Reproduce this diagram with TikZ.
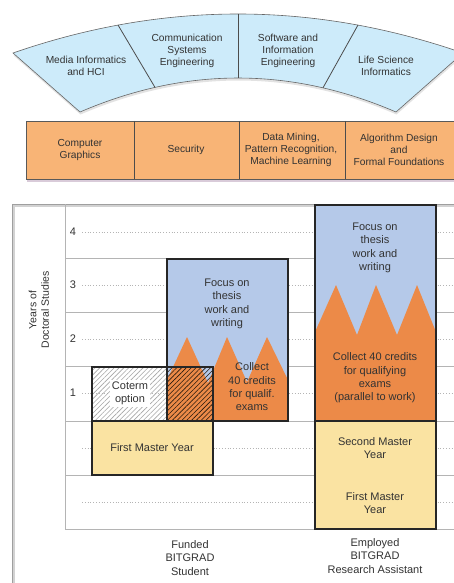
\documentclass[tikz,border=0pt]{standalone}
\usepackage{fontspec}
\setmainfont{Liberation Sans}
\usetikzlibrary{patterns.meta,shadows}
\definecolor{arcblue}{HTML}{CDEBFA}
\definecolor{rowor}{HTML}{F8B476}
\definecolor{thesisblue}{HTML}{B5C9E9}
\definecolor{credor}{HTML}{EC8A48}
\definecolor{masteryel}{HTML}{FAE3A2}
\definecolor{txt}{HTML}{333333}
\definecolor{gridgray}{HTML}{B4B4B4}
\tikzset{
  toptext/.style={align=center, text=txt, font=\fontsize{10.2}{12}\selectfont, inner sep=0pt},
  charttext/.style={align=center, text=txt, font=\fontsize{11}{13.3}\selectfont, inner sep=0pt},
  gridline/.style={draw=gridgray, line width=0.7pt},
  dotline/.style={draw=gridgray, line width=0.8pt, dash pattern=on 0.8pt off 2pt},
  boxborder/.style={draw=black!85, line width=1.4pt},
  divider/.style={draw=black!70, line width=0.8pt}
}
\begin{document}
\begin{tikzpicture}[x=1pt,y=-1pt]
\clip (0,0) rectangle (454,583);
\fill[white] (0,0) rectangle (454,583);

% ---------- top arc band ----------
\path[fill=arcblue, draw=black!60, line width=0.6pt,
      drop shadow={shadow xshift=0.5pt, shadow yshift=-2.5pt, fill=gray!45}]
  (13,53) .. controls (163,1) and (313,1) .. (463,53)
  -- (396,112) .. controls (290.7,66.7) and (185.3,66.7) .. (80,112) -- cycle;
\draw[divider] (118,25) -- (155,87.4);
\draw[divider] (238,14) -- (238,78);
\draw[divider] (358,25) -- (323,87.8);
\node[toptext] (mi)  at (86,66)  {Media Informatics\\and HCI};
\node[toptext] (cse) at (187,51) {Communication\\Systems\\Engineering};
\node[toptext] (sie) at (288,51) {Software and\\Information\\Engineering};
\node[toptext] (lsi) at (386,66) {Life Science\\Informatics};

% ---------- orange row ----------
\path[fill=rowor, draw=black!65, line width=0.8pt,
      drop shadow={shadow xshift=0.5pt, shadow yshift=-2.5pt, fill=black!45!violet!40}]
  (26,121) rectangle (470,179);
\draw[divider] (134,121) -- (134,179);
\draw[divider] (239,121) -- (239,179);
\draw[divider] (345,121) -- (345,179);
\node[toptext] (cg)  at (80,150)  {Computer\\Graphics};
\node[toptext] (sec) at (186,150) {Security};
\node[toptext] (dm)  at (291,150) {Data Mining,\\Pattern Recognition,\\Machine Learning};
\node[toptext] (alg) at (399,150) {Algorithm Design\\and\\Formal Foundations};

% ---------- chart frame ----------
\draw[gray!35, line width=2pt] (14,600) -- (14,206) -- (470,206);
\draw[gray!75, line width=0.8pt] (12,600) -- (12,204) -- (470,204);

% grid
\foreach \yy in {258,312,366,421,475}
  \draw[gridline] (65,\yy) -- (470,\yy);
\draw[gridline] (65,204) -- (65,529) -- (470,529);
\foreach \yy in {232,285,339,393,448,502}
  \draw[dotline] (82,\yy) -- (470,\yy);
\node[charttext] (n4) at (73,232) {4};
\node[charttext] (n3) at (73,285) {3};
\node[charttext] (n2) at (73,339) {2};
\node[charttext] (n1) at (73,393) {1};
\node[charttext, rotate=90, font=\fontsize{10.5}{12.5}\selectfont] (ylab) at (39,310) {Years of\\Doctoral Studies};

% ---------- left column ----------
\fill[thesisblue] (167,259) rectangle (288,421);
\fill[credor] (167,421) -- (167,380) -- (187,337) -- (208,383) -- (227,337)
  -- (247,382) -- (267,337) -- (288,380) -- (288,421) -- cycle;
\fill[pattern={Lines[angle=45, distance=3.4pt, line width=0.6pt]}, pattern color=gray!70]
  (92,367) rectangle (167,421);
\fill[pattern={Lines[angle=45, distance=3.4pt, line width=0.6pt]}, pattern color=black!80!brown]
  (167,367) rectangle (213,421);
\fill[white] (110,380) rectangle (150,407);
\draw[boxborder] (167,259) rectangle (288,421);
\draw[boxborder] (92,367) rectangle (213,421);
\fill[masteryel] (92,421) rectangle (213,475);
\draw[boxborder] (92,421) rectangle (213,475);

\node[charttext] (lthesis) at (227,304) {Focus on\\thesis\\work and\\writing};
\node[charttext] (lcred) at (252,387) {Collect\\40 credits\\for qualif.\\exams};
\node[charttext] (coterm) at (130,393) {Coterm\\option};
\node[charttext] (lmaster) at (152,448) {First Master Year};

% ---------- right column ----------
\fill[thesisblue] (315,205) rectangle (436,421);
\fill[credor] (315,421) -- (315,332) -- (336,285) -- (357,335) -- (376,285)
  -- (397,335) -- (417,285) -- (436,332) -- (436,421) -- cycle;
\draw[boxborder] (315,205) rectangle (436,421);
\fill[masteryel] (315,421) rectangle (436,529);
\draw[boxborder] (315,421) rectangle (436,529);

\node[charttext] (rthesis) at (375,248) {Focus on\\thesis\\work and\\writing};
\node[charttext] (rcred) at (375,378) {Collect 40 credits\\for qualifying\\exams\\(parallel to work)};
\node[charttext] (rsecond) at (375,448) {Second Master\\Year};
\node[charttext] (rfirst) at (375,503) {First Master\\Year};

% ---------- column labels ----------
\node[charttext] (funded) at (190,558) {Funded\\BITGRAD\\Student};
\node[charttext] (employed) at (375,556) {Employed\\BITGRAD\\Research Assistant};
\end{tikzpicture}
\end{document}
